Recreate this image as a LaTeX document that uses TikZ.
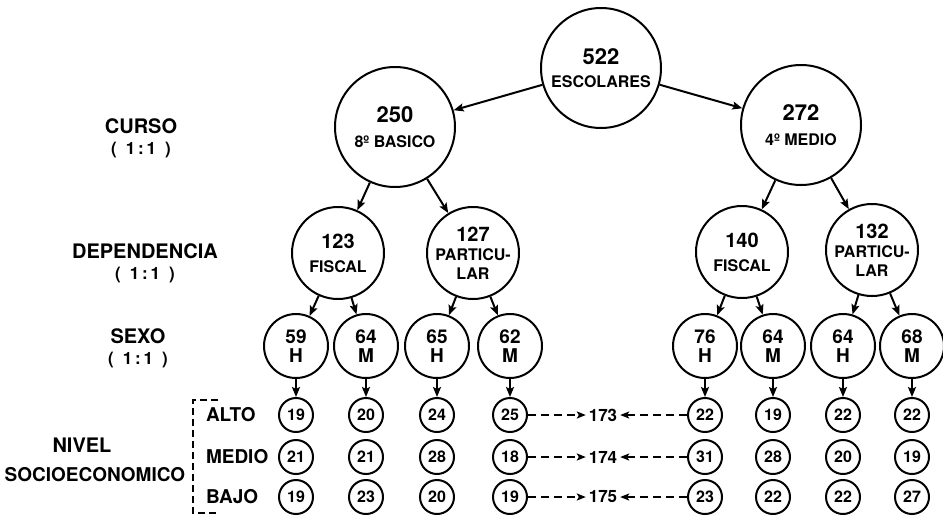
\documentclass[tikz,border=0pt]{standalone}
\usepackage{fontspec}
\setmainfont{TeX Gyre Heros}
\usetikzlibrary{arrows.meta}

\newcommand{\lbltxt}{\fontsize{17}{18}\selectfont}
\newcommand{\subtxt}{\fontsize{16}{18}\selectfont}
\newcommand{\ratio}{(\hspace{9pt}1\,:\,1\hspace{9pt})}

\begin{document}
\begin{tikzpicture}[x=1pt, y=-1pt, line width=2pt,
    cursonode/.style={circle, draw, minimum size=120pt, inner sep=0pt, align=center,
        font=\fontsize{22}{23}\selectfont\bfseries},
    depnode/.style={circle, draw, minimum size=92pt, inner sep=0pt, align=center,
        font=\fontsize{20}{19}\selectfont\bfseries},
    sexonode/.style={circle, draw, minimum size=64pt, inner sep=0pt, align=center,
        font=\fontsize{19}{19}\selectfont\bfseries},
    leafnode/.style={circle, draw, minimum size=34pt, inner sep=0pt,
        font=\fontsize{16}{16}\selectfont\bfseries},
    totnode/.style={inner sep=2pt, font=\fontsize{17}{17}\selectfont\bfseries},
    lab/.style={align=center, font=\fontsize{20}{21}\selectfont\bfseries},
    rowlab/.style={anchor=west, inner sep=0pt, font=\fontsize{19}{19}\selectfont\bfseries},
    link/.style={-{Stealth[length=10pt, width=8pt, inset=2pt]}},
    dlink/.style={dash pattern=on 8pt off 5pt, -{Stealth[length=9pt, width=7pt, inset=2pt]}}]
    \useasboundingbox (0,0) rectangle (943,515);

    % Left labels
    \node[lab] (curso) at (141,138) {CURSO\\\lbltxt \ratio};
    \node[lab] (depend) at (145,263) {DEPENDENCIA\\\lbltxt \ratio};
    \node[lab] (sexo) at (138,348) {SEXO\\\lbltxt \ratio};
    \node[lab, font=\fontsize{20}{20}\selectfont\bfseries] (nivel) at (82,445) {NIVEL};
    \node[lab, font=\fontsize{19}{19}\selectfont\bfseries] (socio) at (95,475) {SOCIOECONOMICO};
    \draw[dash pattern=on 7pt off 4pt, line width=1.5pt] (218,400) -- (193,400) -- (193,513) -- (218,513);
    \node[rowlab] (alto) at (205,415) {ALTO};
    \node[rowlab] (medio) at (205,457) {MEDIO};
    \node[rowlab] (bajo) at (205,497) {BAJO};

    % Curso
    \node[cursonode] (root) at (601,68) {522\\\subtxt ESCOLARES};
    \node[cursonode] (basico) at (395,127) {250\\[2pt]\subtxt 8º BASICO};
    \node[cursonode] (medio4) at (801,125) {272\\[2pt]\subtxt 4º MEDIO};
    \draw[link] (root) -- (basico);
    \draw[link] (root) -- (medio4);

    % Dependencia
    \node[depnode] (bfis) at (338,253) {123\\[5pt]\subtxt FISCAL};
    \node[depnode] (bpar) at (473,253) {127\\\subtxt PARTICU-\\\subtxt LAR};
    \node[depnode] (mfis) at (742,252) {140\\[5pt]\subtxt FISCAL};
    \node[depnode] (mpar) at (872,250) {132\\\subtxt PARTICU-\\\subtxt LAR};
    \draw[link] (basico) -- (bfis);
    \draw[link] (basico) -- (bpar);
    \draw[link] (medio4) -- (mfis);
    \draw[link] (medio4) -- (mpar);

    % Sexo
    \node[sexonode] (bfh) at (296,346) {59\\H};
    \node[sexonode] (bfm) at (366,346) {64\\M};
    \node[sexonode] (bph) at (437,346) {65\\H};
    \node[sexonode] (bpm) at (510,346) {62\\M};
    \node[sexonode] (mfh) at (705,346) {76\\H};
    \node[sexonode] (mfm) at (773,346) {64\\M};
    \node[sexonode] (mph) at (843,346) {64\\H};
    \node[sexonode] (mpm) at (912,346) {68\\M};
    \draw[link] (bfis) -- (bfh);
    \draw[link] (bfis) -- (bfm);
    \draw[link] (bpar) -- (bph);
    \draw[link] (bpar) -- (bpm);
    \draw[link] (mfis) -- (mfh);
    \draw[link] (mfis) -- (mfm);
    \draw[link] (mpar) -- (mph);
    \draw[link] (mpar) -- (mpm);

    % Nivel socioeconomico: alto
    \node[leafnode] (bfh-a) at (296,415) {19};
    \node[leafnode] (bfm-a) at (366,415) {20};
    \node[leafnode] (bph-a) at (437,415) {24};
    \node[leafnode] (bpm-a) at (510,415) {25};
    \node[leafnode] (mfh-a) at (705,415) {22};
    \node[leafnode] (mfm-a) at (773,415) {19};
    \node[leafnode] (mph-a) at (843,415) {22};
    \node[leafnode] (mpm-a) at (912,415) {22};
    % medio
    \node[leafnode] (bfh-m) at (296,457) {21};
    \node[leafnode] (bfm-m) at (366,457) {21};
    \node[leafnode] (bph-m) at (437,457) {28};
    \node[leafnode] (bpm-m) at (510,457) {18};
    \node[leafnode] (mfh-m) at (705,457) {31};
    \node[leafnode] (mfm-m) at (773,457) {28};
    \node[leafnode] (mph-m) at (843,457) {20};
    \node[leafnode] (mpm-m) at (912,457) {19};
    % bajo
    \node[leafnode] (bfh-b) at (296,497) {19};
    \node[leafnode] (bfm-b) at (366,497) {23};
    \node[leafnode] (bph-b) at (437,497) {20};
    \node[leafnode] (bpm-b) at (510,497) {19};
    \node[leafnode] (mfh-b) at (705,497) {23};
    \node[leafnode] (mfm-b) at (773,497) {22};
    \node[leafnode] (mph-b) at (843,497) {22};
    \node[leafnode] (mpm-b) at (912,497) {27};
    \draw[link] (bfh) -- (bfh-a);
    \draw[link] (bfm) -- (bfm-a);
    \draw[link] (bph) -- (bph-a);
    \draw[link] (bpm) -- (bpm-a);
    \draw[link] (mfh) -- (mfh-a);
    \draw[link] (mfm) -- (mfm-a);
    \draw[link] (mph) -- (mph-a);
    \draw[link] (mpm) -- (mpm-a);

    % Totals per level
    \node[totnode] (tot-a) at (603,415) {173};
    \node[totnode] (tot-m) at (603,457) {174};
    \node[totnode] (tot-b) at (603,497) {175};
    \draw[dlink] (bpm-a) -- (tot-a);
    \draw[dlink] (mfh-a) -- (tot-a);
    \draw[dlink] (bpm-m) -- (tot-m);
    \draw[dlink] (mfh-m) -- (tot-m);
    \draw[dlink] (bpm-b) -- (tot-b);
    \draw[dlink] (mfh-b) -- (tot-b);
\end{tikzpicture}
\end{document}
